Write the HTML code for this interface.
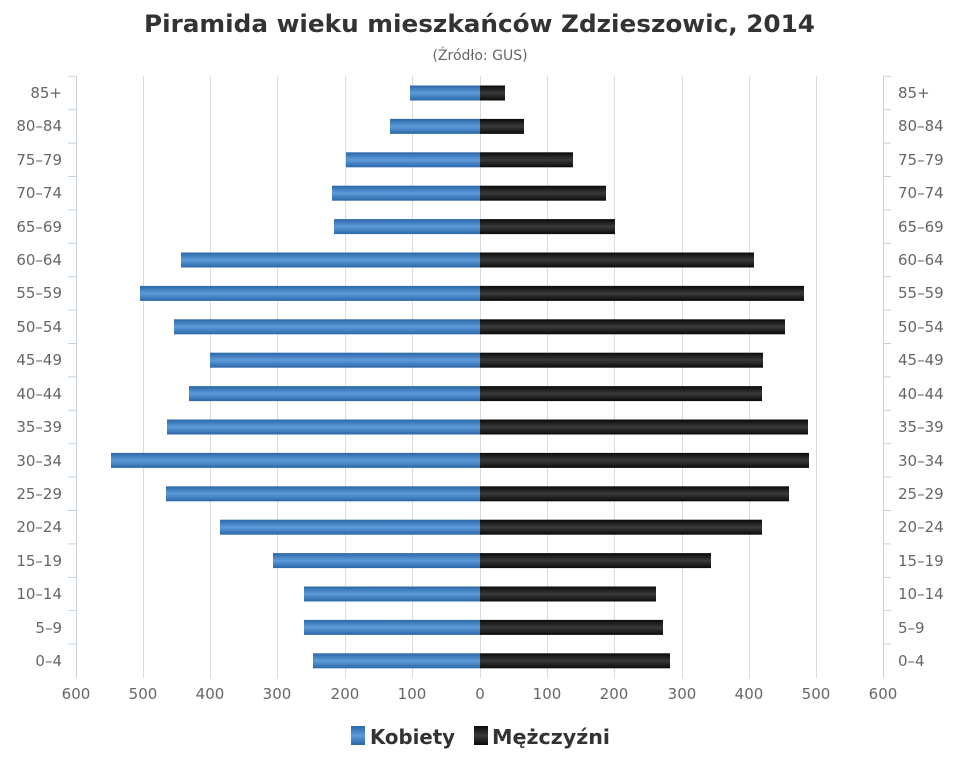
<!DOCTYPE html>
<html><head><meta charset="utf-8"><style>
body{margin:0;background:#fff}
svg{display:block;font-family:"DejaVu Sans","Liberation Sans",sans-serif}
</style></head><body>
<svg id="s" width="960" height="768" viewBox="0 0 960 768">
<defs>
<linearGradient id="gb" x1="0" y1="0" x2="0" y2="1">
<stop offset="0" stop-color="#2c67a8"/><stop offset="0.5" stop-color="#5c9bda"/><stop offset="1" stop-color="#2c67a8"/></linearGradient>
<linearGradient id="gk" x1="0" y1="0" x2="0" y2="1">
<stop offset="0" stop-color="#0a0a0a"/><stop offset="0.5" stop-color="#3a3a3a"/><stop offset="1" stop-color="#0a0a0a"/></linearGradient>
</defs>
<g stroke="#dcdcdc" stroke-width="1">
<line x1="143.5" y1="76" x2="143.5" y2="678"/><line x1="210.5" y1="76" x2="210.5" y2="678"/>
<line x1="277.5" y1="76" x2="277.5" y2="678"/><line x1="345.5" y1="76" x2="345.5" y2="678"/>
<line x1="412.5" y1="76" x2="412.5" y2="678"/><line x1="480.5" y1="76" x2="480.5" y2="678"/>
<line x1="547.5" y1="76" x2="547.5" y2="678"/><line x1="614.5" y1="76" x2="614.5" y2="678"/>
<line x1="682.5" y1="76" x2="682.5" y2="678"/><line x1="749.5" y1="76" x2="749.5" y2="678"/>
<line x1="816.5" y1="76" x2="816.5" y2="678"/>
</g>
<g stroke="#c8d0d8"><line x1="76.5" y1="76" x2="76.5" y2="678"/><line x1="883.5" y1="76" x2="883.5" y2="678"/></g>
<g id="bars"></g>
<text x="144" y="32" font-size="24" font-weight="bold" fill="#333" textLength="671" lengthAdjust="spacingAndGlyphs">Piramida wieku mieszkańców Zdzieszowic, 2014</text>
<text x="480" y="60" text-anchor="middle" font-size="14" fill="#666">(Źródło: GUS)</text>
<g font-size="15" fill="#666" text-anchor="middle">
<text x="76" y="699">600</text><text x="143" y="699">500</text><text x="210" y="699">400</text><text x="277" y="699">300</text><text x="345" y="699">200</text><text x="412" y="699">100</text><text x="480" y="699">0</text><text x="547" y="699">100</text><text x="614" y="699">200</text><text x="682" y="699">300</text><text x="749" y="699">400</text><text x="816" y="699">500</text><text x="883" y="699">600</text>
</g>
<g font-size="15" fill="#666" text-anchor="end">
<text x="62" y="98">85+</text><text x="62" y="131">80–84</text><text x="62" y="165">75–79</text><text x="62" y="198">70–74</text><text x="62" y="232">65–69</text><text x="62" y="265">60–64</text><text x="62" y="298">55–59</text><text x="62" y="332">50–54</text><text x="62" y="365">45–49</text><text x="62" y="399">40–44</text><text x="62" y="432">35–39</text><text x="62" y="466">30–34</text><text x="62" y="499">25–29</text><text x="62" y="532">20–24</text><text x="62" y="566">15–19</text><text x="62" y="599">10–14</text><text x="62" y="633">5–9</text><text x="62" y="666">0–4</text>
</g>
<g font-size="15" fill="#666" text-anchor="start">
<text x="898" y="98">85+</text><text x="898" y="131">80–84</text><text x="898" y="165">75–79</text><text x="898" y="198">70–74</text><text x="898" y="232">65–69</text><text x="898" y="265">60–64</text><text x="898" y="298">55–59</text><text x="898" y="332">50–54</text><text x="898" y="365">45–49</text><text x="898" y="399">40–44</text><text x="898" y="432">35–39</text><text x="898" y="466">30–34</text><text x="898" y="499">25–29</text><text x="898" y="532">20–24</text><text x="898" y="566">15–19</text><text x="898" y="599">10–14</text><text x="898" y="633">5–9</text><text x="898" y="666">0–4</text>
</g>
<rect x="351" y="726" width="14" height="19" fill="url(#gb)"/>
<text x="370" y="744" font-size="20" font-weight="bold" fill="#333" textLength="85" lengthAdjust="spacingAndGlyphs">Kobiety</text>
<rect x="474" y="726" width="14" height="19" fill="url(#gk)"/>
<text x="492" y="744" font-size="20" font-weight="bold" fill="#333" textLength="118" lengthAdjust="spacingAndGlyphs">Mężczyźni</text>
</svg>
<script>
var L=[410,390,346,332,334,181,140,174,210,189,167,111,166,220,273,304,304,313];
var R=[505,524,573,606,615,754,804,785,763,762,808,809,789,762,711,656,663,670];
var g=document.getElementById('bars'),h='';
for(var i=0;i<18;i++){var y=93+33.4*i-7.5;
h+='<rect x="'+L[i]+'" y="'+y+'" width="'+(480-L[i])+'" height="15" fill="url(#gb)"/>';
h+='<rect x="480" y="'+y+'" width="'+(R[i]-480)+'" height="15" fill="url(#gk)"/>';
h+='<line x1="68" x2="76" y1="'+(y-9.2)+'" y2="'+(y-9.2)+'" stroke="#c8d0d8"/><line x1="883" x2="891" y1="'+(y-9.2)+'" y2="'+(y-9.2)+'" stroke="#c8d0d8"/>';}
g.innerHTML=h;
</script>
</body></html>
